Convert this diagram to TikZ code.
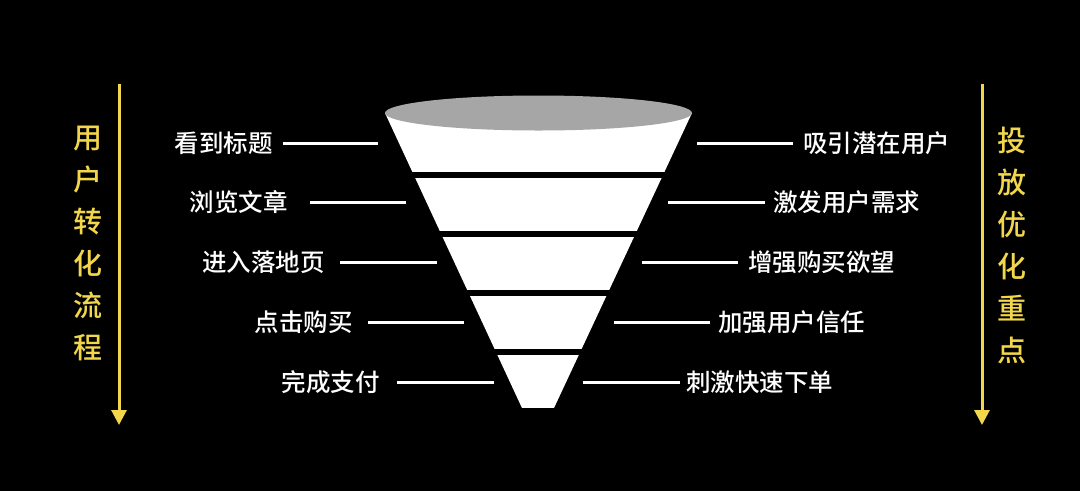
\documentclass[tikz,border=0pt]{standalone}
\usepackage{fontspec}
\newfontfamily\cjk{Noto Sans CJK SC}[BoldFont={Noto Sans CJK SC Medium}]
\usetikzlibrary{arrows.meta}
\definecolor{arrowyellow}{HTML}{F2D64B}
\definecolor{rimgray}{HTML}{A6A6A6}
\tikzset{
    label/.style={text=white, inner sep=0pt, font=\cjk\bfseries\fontsize{24.5}{28}\selectfont},
    side/.style={text=arrowyellow, inner sep=0pt, align=center, font=\cjk\bfseries\fontsize{29}{42}\selectfont},
    lead/.style={white, line width=3pt},
    flow/.style={arrowyellow, line width=3pt, -{Triangle[width=15pt,length=15pt]}}
}
\begin{document}
\begin{tikzpicture}[x=1pt,y=-1pt]
    \fill[black] (0,0) rectangle (1080,491);
    \useasboundingbox (0,0) rectangle (1080,491);
    % funnel
    \begin{scope}
    \clip (385,113) -- (692,113) -- (554,408) -- (522,408) -- cycle;
    \fill[white] (380,113) rectangle (700,172);
    \fill[white] (380,178) rectangle (700,231);
    \fill[white] (380,237) rectangle (700,290);
    \fill[white] (380,296) rectangle (700,349);
    \fill[white] (380,355) rectangle (700,408);
    \end{scope}
    \fill[rimgray] (538.5,113) ellipse (153.5 and 17.5);
    % left side
    \coordinate (l1) at (378,143);
    \coordinate (l2) at (406,202);
    \coordinate (l3) at (437,262);
    \coordinate (l4) at (464,322);
    \coordinate (l5) at (494,382);
    \node[label, anchor=east] (see) at (273,143) {看到标题};
    \node[label, anchor=east] (read) at (288,202) {浏览文章};
    \node[label, anchor=east] (land) at (325,262) {进入落地页};
    \node[label, anchor=east] (click) at (353,322) {点击购买};
    \node[label, anchor=east] (pay) at (380,382) {完成支付};
    \draw[lead] ([xshift=10pt]see.east) -- (l1);
    \draw[lead] ([xshift=22pt]read.east) -- (l2);
    \draw[lead] ([xshift=15pt]land.east) -- (l3);
    \draw[lead] ([xshift=15pt]click.east) -- (l4);
    \draw[lead] ([xshift=17pt]pay.east) -- (l5);
    % right side
    \coordinate (r1) at (697,143);
    \coordinate (r2) at (668,202);
    \coordinate (r3) at (642,262);
    \coordinate (r4) at (614,322);
    \coordinate (r5) at (583,382);
    \node[label, anchor=west] (attract) at (803,143) {吸引潜在用户};
    \node[label, anchor=west] (need) at (773,202) {激发用户需求};
    \node[label, anchor=west] (desire) at (748,262) {增强购买欲望};
    \node[label, anchor=west] (trust) at (718,322) {加强用户信任};
    \node[label, anchor=west] (order) at (686,382) {刺激快速下单};
    \draw[lead] (r1) -- ([xshift=-10pt]attract.west);
    \draw[lead] (r2) -- ([xshift=-8pt]need.west);
    \draw[lead] (r3) -- ([xshift=-10pt]desire.west);
    \draw[lead] (r4) -- ([xshift=-8pt]trust.west);
    \draw[lead] (r5) -- ([xshift=-6pt]order.west);
    % yellow arrows
    \coordinate (ltop) at (119,84);
    \coordinate (lbot) at (119,425);
    \coordinate (rtop) at (982,84);
    \coordinate (rbot) at (982,425);
    \draw[flow] (ltop) -- (lbot);
    \draw[flow] (rtop) -- (rbot);
    \node[side] (process) at (88,243) {用\\户\\转\\化\\流\\程};
    \node[side] (focus) at (1012,245) {投\\放\\优\\化\\重\\点};
\end{tikzpicture}
\end{document}
